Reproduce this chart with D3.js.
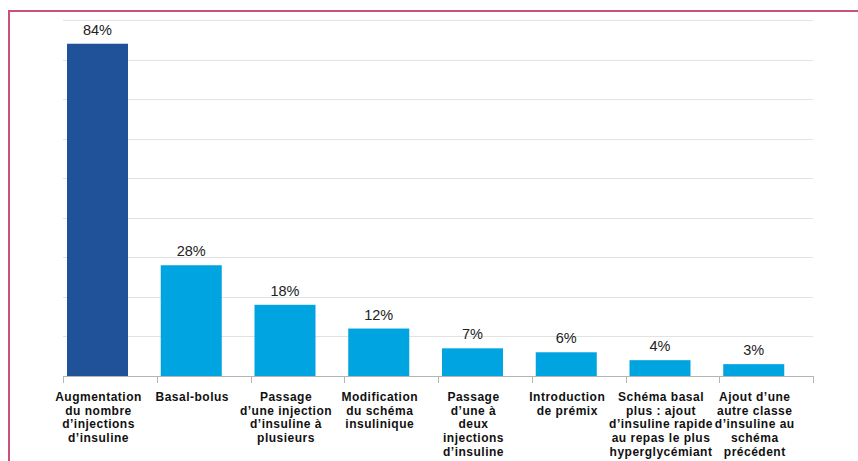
<!DOCTYPE html>
<html>
<head>
<meta charset="utf-8">
<script src="https://cdn.jsdelivr.net/npm/d3@7"></script>
<style>
  body { margin: 0; background: #fff; }
  svg { display: block; }
</style>
</head>
<body>
<div id="chart"><svg></svg></div>
<script>
const categories = [
  "Augmentation|du nombre|d\u2019injections|d\u2019insuline",
  "Basal-bolus",
  "Passage|d\u2019une injection|d\u2019insuline à|plusieurs",
  "Modification|du schéma|insulinique",
  "Passage|d\u2019une à|deux|injections|d\u2019insuline",
  "Introduction|de prémix",
  "Schéma basal|plus : ajout|d\u2019insuline rapide|au repas le plus|hyperglycémiant",
  "Ajout d\u2019une|autre classe|d\u2019insuline au|schéma|précédent"
]
const values = [84, 28, 18, 12, 7, 6, 4, 3]
const yTicks = [0, 10, 20, 30, 40, 50, 60, 70, 80, 90]

const width = 858
const height = 461
const plotLeft = 63
const plotRight = 813
const plotTop = 20
const plotBottom = 376

const svg = d3.select("#chart").select("svg")
svg.attr("width", width).attr("height", height)

// pink frame (runs off the right and bottom edges)
svg.append("path")
  .attr("d", `M9,${height + 5} L9,11 L${width + 5},11`)
  .attr("fill", "none")
  .attr("stroke", "#c9527a")
  .attr("stroke-width", 2)

const xAxis = d3.scaleBand()
  .domain(d3.range(categories.length))
  .range([plotLeft, plotRight])

const yAxis = d3.scaleLinear()
  .domain([0, 90])
  .range([plotBottom, plotTop])

// gridlines
svg.append("g")
  .selectAll("line")
  .data(yTicks.slice(1))
  .join("line")
  .attr("x1", plotLeft)
  .attr("x2", plotRight)
  .attr("y1", (d) => Math.round(yAxis(d)) + 0.5)
  .attr("y2", (d) => Math.round(yAxis(d)) + 0.5)
  .attr("stroke", "#e2e2e2")
  .attr("stroke-width", 1)

const barWidth = 61
const barOffset = 4

svg.append("g")
  .selectAll("rect")
  .data(values)
  .join("rect")
  .attr("x", (d, i) => xAxis(i) + barOffset)
  .attr("y", (d) => yAxis(d))
  .attr("width", barWidth)
  .attr("height", (d) => plotBottom - yAxis(d))
  .attr("fill", (d, i) => (i === 0 ? "#1f5299" : "#00a4e0"))

// value labels
svg.append("g")
  .selectAll("text")
  .data(values)
  .join("text")
  .attr("x", (d, i) => xAxis(i) + barOffset + barWidth / 2)
  .attr("y", (d) => yAxis(d) - 9)
  .attr("text-anchor", "middle")
  .attr("font-family", "Liberation Sans, Arial, sans-serif")
  .attr("font-size", 14.5)
  .attr("fill", "#222")
  .text((d) => d + "%")

// x axis with ticks at band edges
const axisG = svg.append("g")
axisG.append("line")
  .attr("x1", plotLeft)
  .attr("x2", plotRight)
  .attr("y1", plotBottom + 0.5)
  .attr("y2", plotBottom + 0.5)
  .attr("stroke", "#b5b5b5")
axisG.selectAll(".tick")
  .data(d3.range(categories.length + 1))
  .join("line")
  .attr("class", "tick")
  .attr("x1", (i) => Math.round(plotLeft + i * xAxis.step()) + 0.5)
  .attr("x2", (i) => Math.round(plotLeft + i * xAxis.step()) + 0.5)
  .attr("y1", plotBottom)
  .attr("y2", plotBottom + 7)
  .attr("stroke", "#b5b5b5")

// category labels
const catG = svg.append("g")
categories.forEach((c, i) => {
  const cx = xAxis(i) + barOffset + barWidth / 2 + 1
  const t = catG.append("text")
    .attr("x", cx)
    .attr("y", 401)
    .attr("text-anchor", "middle")
    .attr("font-family", "Liberation Sans, Arial, sans-serif")
    .attr("font-weight", "bold")
    .attr("font-size", 12)
    .attr("letter-spacing", 0.5)
    .attr("fill", "#111")
  c.split("|").forEach((line, j) => {
    t.append("tspan")
      .attr("x", cx)
      .attr("dy", j === 0 ? 0 : 13.7)
      .text(line)
  })
})
</script>
</body>
</html>
